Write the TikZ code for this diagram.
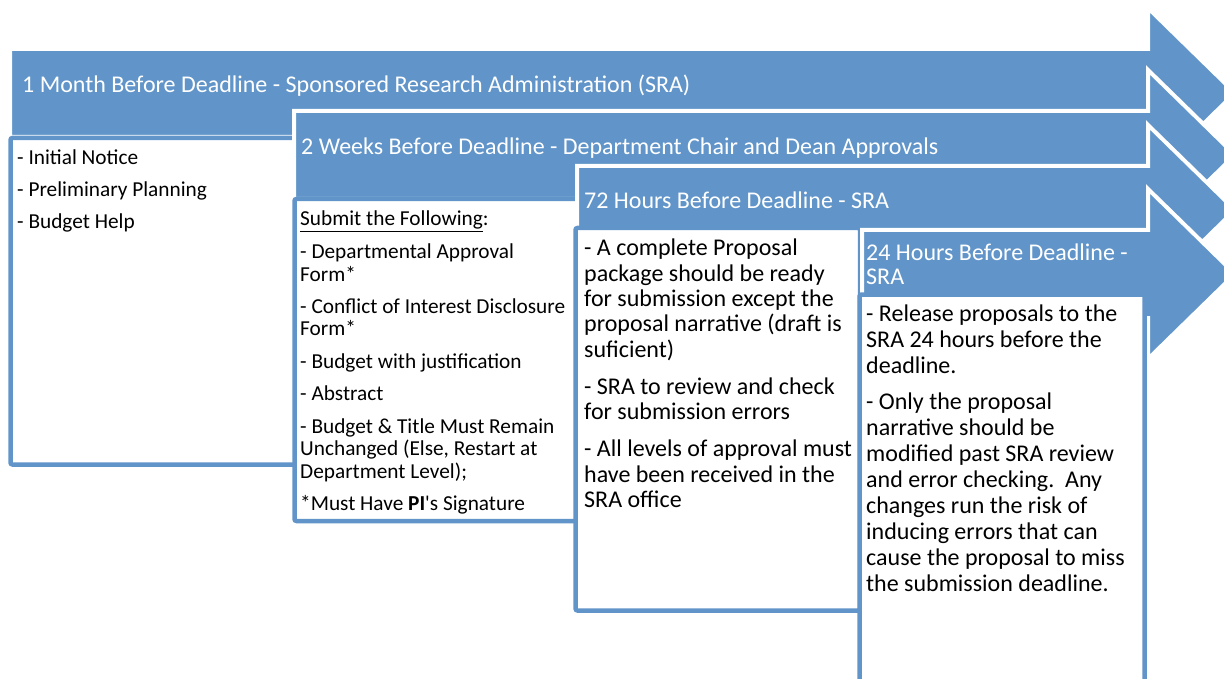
\documentclass[tikz,border=0pt]{standalone}
\usepackage{fontspec}
\setmainfont{Carlito}
\definecolor{sraBlue}{RGB}{97,149,201}

% one stage: left end and top of the shaft
\newcommand{\stagearrow}[2]{%
  \filldraw[band] (#1-2,#2-2) -- (1148,#2-2) -- (1148,#2-43) -- (1235,#2+42)
    -- (1148,#2+127) -- (1148,#2+86) -- (#1-2,#2+86) -- cycle;}

\begin{document}
\begin{tikzpicture}[x=1pt, y=-1pt,
    band/.style = {fill=sraBlue, draw=white, line width=4pt},
    card/.style = {fill=white, draw=sraBlue, line width=4.5pt, rounded corners=2pt},
    title/.style = {anchor=base west, inner sep=0pt, text=white, align=flush left,
                    font=\fontsize{24}{24}\selectfont},
    bignote/.style = {anchor=base west, inner sep=0pt, align=flush left, text width=330pt,
                      font=\fontsize{24}{25.5}\selectfont},
    smallnote/.style = {anchor=base west, inner sep=0pt, align=flush left, text width=330pt,
                        font=\fontsize{21.3}{22.5}\selectfont}]
    \useasboundingbox (0,0) rectangle (1224,679);
    \clip (0,0) rectangle (1224,679);

    % 1 month
    \stagearrow{12}{51}
    \node[title] (month) at (22,92.5) {1 Month Before Deadline - Sponsored Research Administration (SRA)};
    \draw[card] (10.5,138) rectangle (296,464.5);
    \node[smallnote, font=\fontsize{21.3}{22}\selectfont] (monthtxt) at (17,165)
        {- Initial Notice\\[10pt]
         - Preliminary Planning\\[10pt]
         - Budget Help};

    % 2 weeks
    \stagearrow{296}{113}
    \node[title] (weeks) at (301,155) {2 Weeks Before Deadline - Department Chair and Dean Approvals};
    \draw[card] (294.5,199) rectangle (578,521);
    \node[smallnote] (weekstxt) at (300,226)
        {\underline{Submit the Following}:\\[10pt]
         - Departmental Approval\\
         Form*\\[10pt]
         - Conflict of Interest Disclosure\\
         Form*\\[10pt]
         - Budget with justification\\[10pt]
         - Abstract\\[10pt]
         - Budget \& Title Must Remain\\
         Unchanged (Else, Restart at\\
         Department Level);\\[10pt]
         *Must Have \textbf{PI}\textquotesingle s Signature};

    % 72 hours
    \stagearrow{579}{168}
    \node[title] (hours72) at (584,209) {72 Hours Before Deadline - SRA};
    \draw[card] (575.5,228) rectangle (860,610.5);
    \node[bignote] (hours72txt) at (584,255.5)
        {- A complete Proposal\\
         package should be ready\\
         for submission except the\\
         proposal narrative (draft is\\
         suficient)\\[11.5pt]
         - SRA to review and check\\
         for submission errors\\[11.5pt]
         - All levels of approval must\\
         have been received in the\\
         SRA office};

    % 24 hours
    \stagearrow{864}{232}
    \node[title, text width=280pt] (hours24) at (866,260.5) {24 Hours Before Deadline -\\SRA};
    \draw[card] (859.5,294.5) rectangle (1144.5,700);
    \node[bignote, font=\fontsize{24}{26}\selectfont] (hours24txt) at (866,321.5)
        {- Release proposals to the\\
         SRA 24 hours before the\\
         deadline.\\[10pt]
         - Only the proposal\\
         narrative should be\\
         modified past SRA review\\
         and error checking.\ \ Any\\
         changes run the risk of\\
         inducing errors that can\\
         cause the proposal to miss\\
         the submission deadline.};
\end{tikzpicture}
\end{document}
